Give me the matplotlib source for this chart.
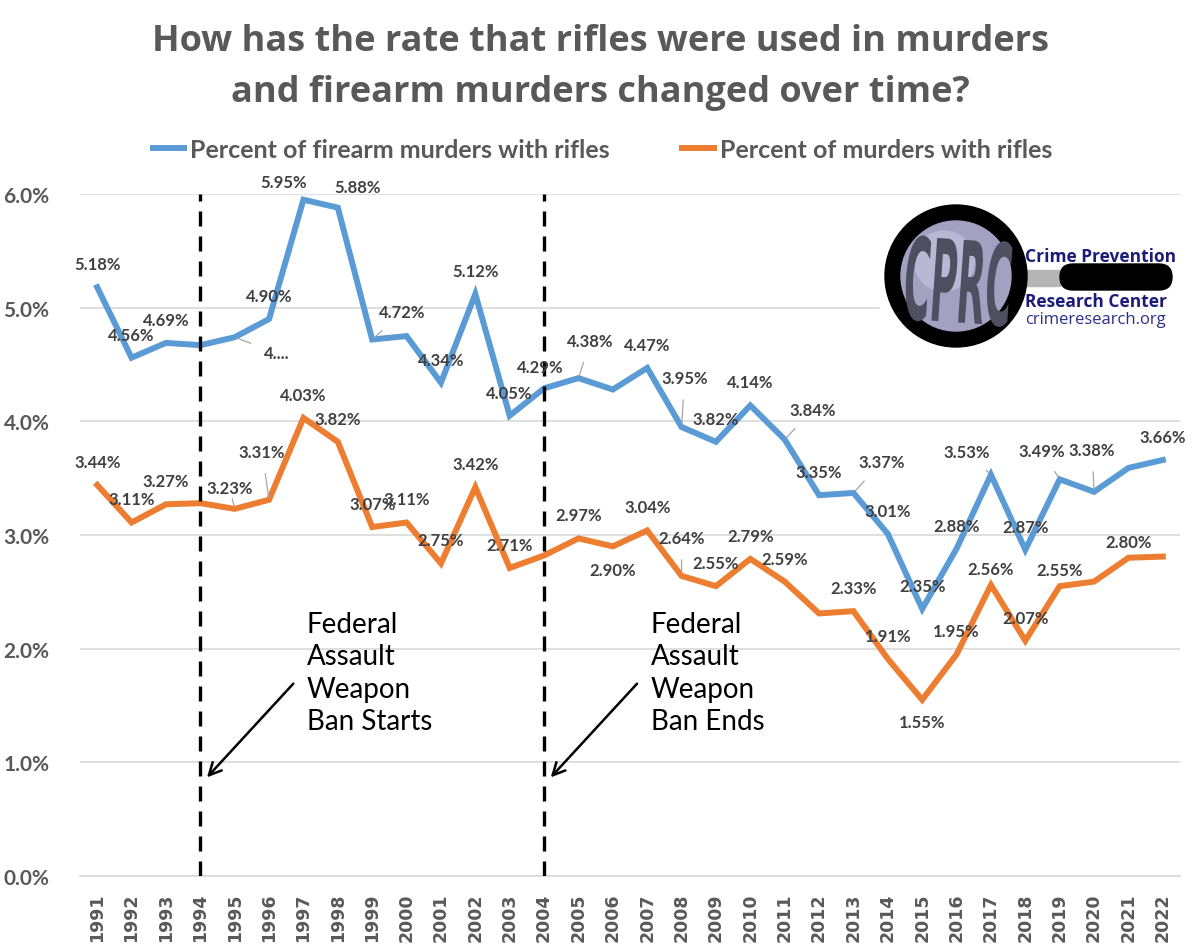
import matplotlib
matplotlib.use("Agg")
import matplotlib.pyplot as plt
from matplotlib.patches import Circle, FancyBboxPatch, Rectangle, PathPatch
from matplotlib.textpath import TextPath
from matplotlib.font_manager import FontProperties
from matplotlib.transforms import Affine2D

plt.rcParams['font.family'] = ['Lato', 'DejaVu Sans']

anni = list(range(1991, 2023))
fucili_armi = [5.18, 4.56, 4.69, 4.67, 4.74, 4.90, 5.95, 5.88, 4.72, 4.75,
               4.34, 5.12, 4.05, 4.29, 4.38, 4.28, 4.47, 3.95, 3.82, 4.14,
               3.84, 3.35, 3.37, 3.01, 2.35, 2.88, 3.53, 2.87, 3.49, 3.38,
               3.59, 3.66]
fucili_omicidi = [3.44, 3.11, 3.27, 3.28, 3.23, 3.31, 4.03, 3.82, 3.07, 3.11,
                  2.75, 3.42, 2.71, 2.82, 2.97, 2.90, 3.04, 2.64, 2.55, 2.79,
                  2.59, 2.31, 2.33, 1.91, 1.55, 1.95, 2.56, 2.07, 2.55, 2.59,
                  2.80, 2.81]
nome_blu = "Percent of firearm murders with rifles"
nome_arancio = "Percent of murders with rifles"
anni_eventi = [1994, 2004]
testi_eventi = ["Federal\nAssault\nWeapon\nBan Starts", "Federal\nAssault\nWeapon\nBan Ends"]

BLU = '#5B9BD5'
ARANCIO = '#ED7D31'
GRIGIO = '#595959'
ETICHETTA = '#404040'

# etichette: anno -> (dx, dy in pixel, linea guida)
nascoste_blu = {1994, 2000, 2006, 2021}
spost_blu = {1995: (42, -16, True), 1997: (-20, 18, False), 1998: (20, 21, True),
             1999: (30, 27, True), 2004: (-4, 21, False), 2005: (12, 37, True),
             2008: (3, 49, True), 2011: (28, 30, True), 2013: (28, 31, True),
             2017: (-24, 23, True), 2019: (-18, 28, True), 2020: (-2, 42, True)}
nascoste_arancio = {1994, 2004, 2012, 2020, 2022}
spost_arancio = {1995: (-5, 21, True), 1996: (-7, 48, True), 2006: (0, -24, False),
                 2008: (0, 38, True), 2015: (0, -22, False), 2017: (0, 16, False),
                 2019: (0, 16, False), 2021: (0, 16, False)}

fig = plt.figure(figsize=(12, 9.53), dpi=100)
ax = fig.add_axes([80 / 1200, 1 - 877 / 953, 1100 / 1200, 682 / 953])

ax.plot(anni, fucili_armi, color=BLU, lw=4.3, solid_joinstyle='miter', label=nome_blu, zorder=3)
ax.plot(anni, fucili_omicidi, color=ARANCIO, lw=4.3, solid_joinstyle='miter', label=nome_arancio, zorder=3)


def etichette(valori, nascoste, spost):
    for a, v in zip(anni, valori):
        if a in nascoste:
            continue
        dx, dy, guida = spost.get(a, (0, 23, False))
        testo = "4...." if (valori is fucili_armi and a == 1995) else f"{v:.2f}%"
        props = None
        if guida:
            props = dict(arrowstyle='-', color='#a6a6a6', lw=0.9, shrinkA=8, shrinkB=2)
        ax.annotate(testo, xy=(a, v), xytext=(dx, dy), textcoords='offset pixels',
                    ha='center', va='center', fontsize=12, fontweight='bold',
                    color=ETICHETTA, arrowprops=props, annotation_clip=False, zorder=5)


etichette(fucili_armi, nascoste_blu, spost_blu)
etichette(fucili_omicidi, nascoste_arancio, spost_arancio)

for anno, testo in zip(anni_eventi, testi_eventi):
    ax.axvline(anno, ymin=0, ymax=1, color='black', lw=2.4, dashes=(4.5, 3), zorder=4)
    ax.annotate('', xy=(anno + 0.14, 0.85), xytext=(anno + 2.76, 1.71),
                arrowprops=dict(arrowstyle='->', color='black', lw=1.8, mutation_scale=22))
    ax.text(anno + 3.1, 2.33, testo, ha='left', va='top', fontsize=20,
            color='black', linespacing=1.3)

ax.set_xlim(1990.5, 2022.5)
ax.set_ylim(0, 6.0)
ax.set_yticks(range(0, 7))
ax.set_yticklabels([f"{t:.1f}%" for t in range(0, 7)], fontsize=15, fontweight='bold', color=GRIGIO)
ax.set_xticks(anni)
ax.set_xticklabels([str(a) for a in anni], rotation=90, fontsize=12.5, fontweight='bold',
                   color=GRIGIO, family='DejaVu Sans')
ax.tick_params(length=0, pad=12)
ax.tick_params(axis='y', pad=22)
ax.grid(axis='y', color='#d9d9d9', lw=1.2)
ax.set_axisbelow(True)
for lato in ['top', 'right', 'left']:
    ax.spines[lato].set_visible(False)
ax.spines['bottom'].set_color('#d9d9d9')
ax.spines['bottom'].set_linewidth(1.2)

fig.text(0.5, 1 - 42 / 953, "How has the rate that rifles were used in murders",
         ha='center', va='center', fontsize=26, fontweight='bold', color=GRIGIO, family='Open Sans')
fig.text(0.5, 1 - 93 / 953, "and firearm murders changed over time?",
         ha='center', va='center', fontsize=26, fontweight='bold', color=GRIGIO, family='Open Sans')

fig.legend(loc='center', bbox_to_anchor=(0.502, 1 - 150 / 953), ncol=2, frameon=False,
           prop={'size': 18, 'weight': 'bold'}, labelcolor=GRIGIO, handlelength=1.25,
           columnspacing=2.9, handletextpad=0.25)

# logo CPRC
lx = fig.add_axes([0, 0, 1, 1], zorder=10)
lx.set_xlim(0, 1200)
lx.set_ylim(953, 0)
lx.axis('off')
lx.add_patch(Rectangle((880, 205), 302, 142, color='white', zorder=1))
lx.add_patch(Rectangle((1022, 271), 38, 16, color='#b5b5b5', zorder=2))
lx.add_patch(FancyBboxPatch((1060, 265), 112, 26, boxstyle='round,pad=0,rounding_size=13',
                            color='black', zorder=2))
lx.add_patch(Circle((956, 277), 71, color='black', zorder=3))
lx.add_patch(Circle((956, 277), 55, color='#a3a1c2', zorder=4))
lx.add_patch(Circle((944, 262), 30, color='#b9b7d3', zorder=4))
tp = TextPath((0, 0), "CPRC", size=1, prop=FontProperties(family='DejaVu Sans', weight='bold'))
bb = tp.get_extents()
trasf = (Affine2D().translate(-bb.x0 - bb.width / 2, -bb.y0 - bb.height / 2)
         .scale(104 / bb.width, -86 / bb.height).rotate_deg(4).translate(958, 282))
lx.add_patch(PathPatch(trasf.transform_path(tp), color='#4f4f62', lw=0, zorder=5))
lx.text(1025, 257, "Crime Prevention", ha='left', va='center', fontsize=12.5,
        fontweight='bold', color='#1c1c78', family='Open Sans', zorder=5)
lx.text(1025, 302, "Research Center", ha='left', va='center', fontsize=12.5,
        fontweight='bold', color='#1c1c78', family='Open Sans', zorder=5)
lx.text(1025, 320, "crimeresearch.org", ha='left', va='center', fontsize=12,
        color='#2e2e86', family='Open Sans', zorder=5)

fig.savefig("out.png", dpi=100, facecolor='white')
